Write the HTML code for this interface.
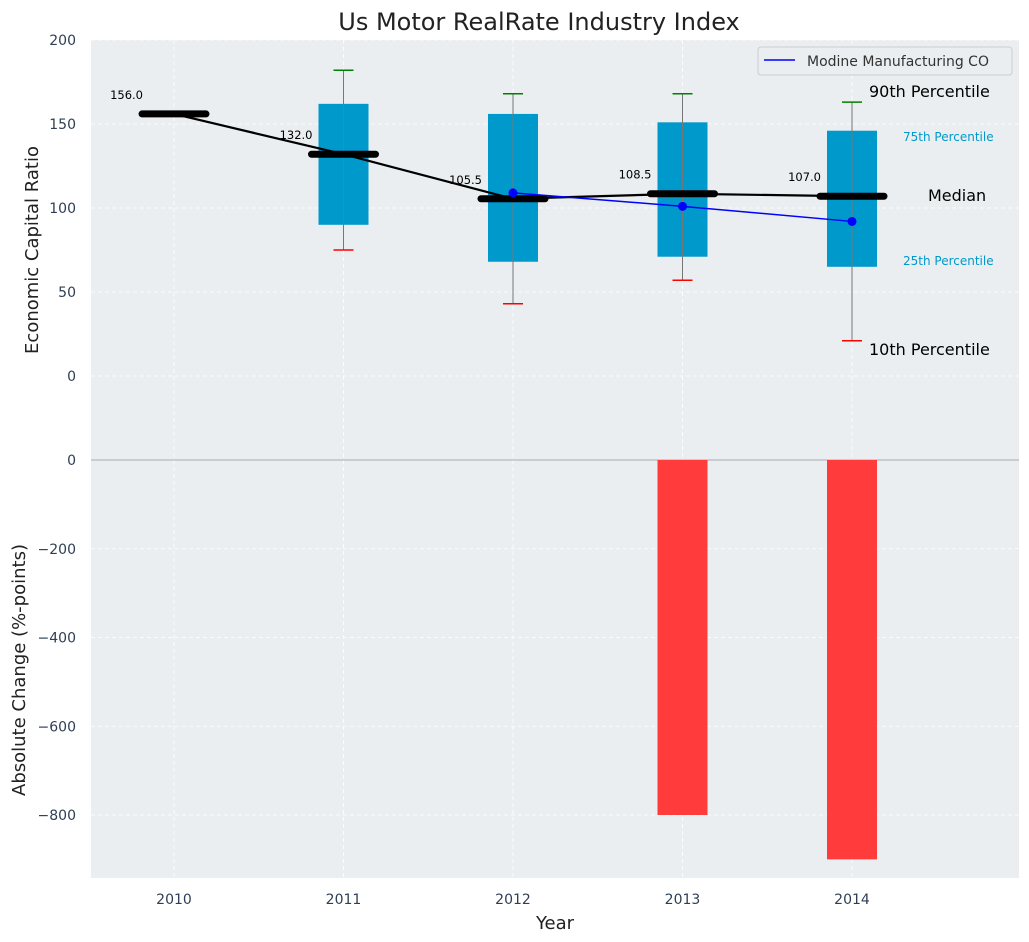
<!DOCTYPE html>
<html><head><meta charset="utf-8"><style>
body{margin:0;background:#fff;}
svg{display:block;font-family:"DejaVu Sans","Liberation Sans",sans-serif;}
</style></head><body>
<svg id="chart" width="1029" height="942"></svg>
<script>
const years=["2010","2011","2012","2013","2014"];
const medians=[156,132,105.5,108.5,107];
const p25=[null,90,68,71,65];
const p75=[null,162,156,151,146];
const p10=[null,75,43,57,21];
const p90=[null,182,168,168,163];
const companyYears=[2,3,4];
const companyVals=[109,101,92];
const changeYears=[3,4];
const changeVals=[-800,-900];
const topTicks=[0,50,100,150,200];
const botTicks=[-800,-600,-400,-200,0];

const NS="http://www.w3.org/2000/svg";
const svg=document.getElementById('chart');
function el(tag,attrs,parent){const e=document.createElementNS(NS,tag);for(const k in attrs)e.setAttribute(k,attrs[k]);(parent||svg).appendChild(e);return e;}
const X=i=>174+169.5*i;
const YT=v=>376-1.68*v;
const YB=v=>460-0.44375*v;
const L=91,R=1019;

// backgrounds
let bg=el('rect',{x:L,y:40,width:R-L,height:420,fill:'#eaeef0'});


let bg2=el('rect',{x:L,y:460,width:R-L,height:418,fill:'#eaeef0'});



// grids
years.forEach((y,i)=>{
  el('line',{x1:X(i),x2:X(i),y1:40,y2:878,stroke:'#fff','stroke-dasharray':'4,3','stroke-width':0.8});
});
topTicks.forEach(t=>{
  el('line',{x1:L,x2:R,y1:YT(t),y2:YT(t),stroke:'#fff','stroke-dasharray':'4,3','stroke-width':0.8});
  const tx=el('text',{x:76,y:YT(t)+5,'text-anchor':'end','font-size':14,fill:'#2e3f55'});tx.textContent=t;
  
  
});
botTicks.forEach(t=>{
  el('line',{x1:L,x2:R,y1:YB(t),y2:YB(t),stroke:'#fff','stroke-dasharray':'4,3','stroke-width':0.8});
  const tx=el('text',{x:76,y:YB(t)+5,'text-anchor':'end','font-size':14,fill:'#2e3f55'});tx.textContent=(t<0?'−'+(-t):t);
  
  
});
el('line',{x1:L,x2:R,y1:460,y2:460,stroke:'#aaa','stroke-width':1});

// bars
changeYears.forEach((yi,k)=>{
  const b=el('rect',{x:X(yi)-25,y:YB(0),width:50,height:YB(changeVals[k])-YB(0),fill:'#ff3b3b'});
  
  
});

// boxes
years.forEach((y,i)=>{
  if(p25[i]==null)return;
  const b=el('rect',{x:X(i)-25,y:YT(p75[i]),width:50,height:YT(p25[i])-YT(p75[i]),fill:'#0099cc'});
  
  
  el('line',{x1:X(i),x2:X(i),y1:YT(p90[i]),y2:YT(p10[i]),stroke:'#777','stroke-width':1});
  el('line',{x1:X(i)-10,x2:X(i)+10,y1:YT(p90[i]),y2:YT(p90[i]),stroke:'green','stroke-width':1.5});
  el('line',{x1:X(i)-10,x2:X(i)+10,y1:YT(p10[i]),y2:YT(p10[i]),stroke:'red','stroke-width':1.5});
});

// median line
let mp=el('polyline',{points:medians.map((m,i)=>X(i)+','+YT(m)).join(' '),fill:'none',stroke:'#000','stroke-width':2.2});


medians.forEach((m,i)=>{
  const s=el('line',{x1:X(i)-32,x2:X(i)+32,y1:YT(m),y2:YT(m),stroke:'#000','stroke-width':7,'stroke-linecap':'round'});
  
  
  const t=el('text',{x:X(i)-31,y:YT(m)-15,'text-anchor':'end','font-size':11.5,fill:'#000'});t.textContent=m.toFixed(1);
  
  
});

// company line
let cl=el('polyline',{points:companyYears.map((yi,k)=>X(yi)+','+YT(companyVals[k])).join(' '),fill:'none',stroke:'#0000ff','stroke-width':1.5});


companyYears.forEach((yi,k)=>{
  const c=el('circle',{cx:X(yi),cy:YT(companyVals[k]),r:4.5,fill:'#0000ff'});
  
  
});

// annotations
[['90th Percentile',869,97,16,'#000'],['75th Percentile',903,141,12,'#0099cc'],['Median',928,201,16,'#000'],['25th Percentile',903,265,12,'#0099cc'],['10th Percentile',869,355,16,'#000']].forEach(a=>{
  const t=el('text',{x:a[1],y:a[2],'font-size':a[3],fill:a[4]});t.textContent=a[0];
  
  
});

// x ticks
years.forEach((y,i)=>{
  const t=el('text',{x:X(i),y:904,'text-anchor':'middle','font-size':14,fill:'#2e3f55'});t.textContent=y;
  
  
});

// titles
let tt=el('text',{x:539,y:30,'text-anchor':'middle','font-size':24,fill:'#222'});tt.textContent='Us Motor RealRate Industry Index';


let xt=el('text',{x:555,y:929,'text-anchor':'middle','font-size':18,fill:'#222'});xt.textContent='Year';


let yt1=el('text',{x:0,y:0,'text-anchor':'middle','font-size':18,fill:'#222',transform:'translate(38,250) rotate(-90)'});yt1.textContent='Economic Capital Ratio';


let yt2=el('text',{x:0,y:0,'text-anchor':'middle','font-size':18,fill:'#222',transform:'translate(25,670) rotate(-90)'});yt2.textContent='Absolute Change (%-points)';



// legend
let lg=el('g',{});


el('rect',{x:758,y:47,width:254,height:28,rx:3,fill:'#eaeef0',stroke:'#ccc'},lg);
el('line',{x1:764,x2:795,y1:60,y2:60,stroke:'#0000ff','stroke-width':1.5},lg);
let lt=el('text',{x:807,y:66,'font-size':14,fill:'#333'},lg);lt.textContent='Modine Manufacturing CO';


</script>
</body></html>
